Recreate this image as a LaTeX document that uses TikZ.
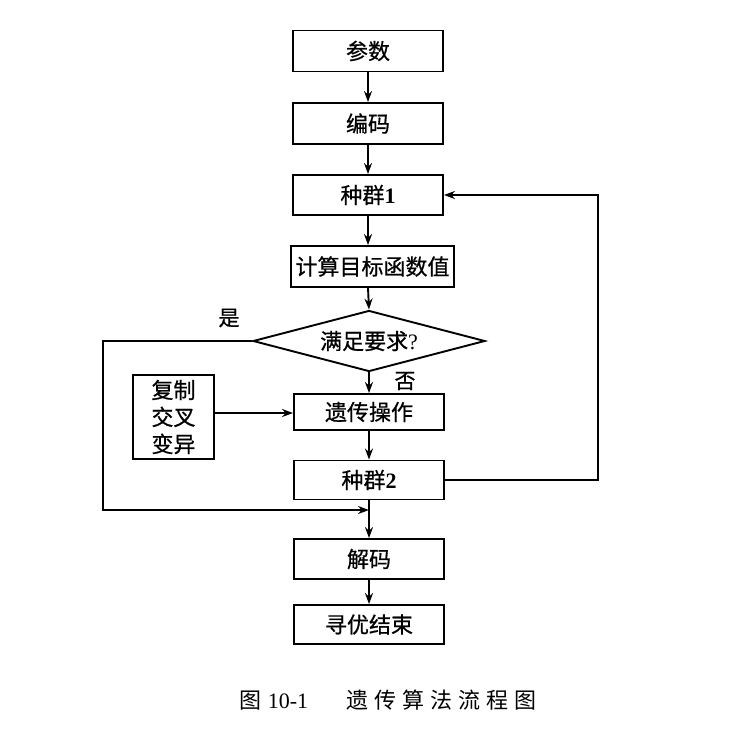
\documentclass[tikz,border=0pt]{standalone}
\usepackage{fontspec}
\setmainfont{Liberation Serif}
\newfontfamily\cjk{Noto Sans CJK SC}
\newfontfamily\cjkb[BoldFont={Noto Sans CJK SC},BoldFeatures={FakeBold=0.7}]{Noto Sans CJK SC}
\usetikzlibrary{shapes.geometric,arrows.meta}
\begin{document}
\begin{tikzpicture}[x=1pt,y=-1pt,
  box/.style={draw,line width=1.9pt,fill=white,minimum width=150pt,minimum height=40pt,inner sep=2pt,font=\fontsize{22}{24}\selectfont\bfseries},
  dia/.style={draw,line width=1.9pt,fill=white,diamond,aspect=3.8,inner sep=0pt,minimum width=232pt,minimum height=61pt,font=\fontsize{22}{24}\selectfont\bfseries},
  arr/.style={line width=1.9pt,-{Stealth[length=11pt,width=8pt]}},
  lab/.style={font=\fontsize{21}{23}\selectfont\bfseries}]
\useasboundingbox[fill=white] (0,0) rectangle (752,732);
\node[box,minimum height=41pt] (p1) at (368,51) {\cjkb 参数};
\node[box,minimum height=41pt] (p2) at (368,123.5) {\cjkb 编码};
\node[box] (p3) at (368,195) {\cjkb 种群\rmfamily 1};
\node[box,minimum width=163pt,minimum height=41pt] (p4) at (372.5,266.5) {\cjkb 计算目标函数值};
\node[dia] (d) at (369,341) {\cjkb 满足要求\rmfamily\mdseries ?};
\node[box,minimum height=36pt] (g) at (369,412) {\cjkb 遗传操作};
\node[box,minimum width=81pt,minimum height=84pt,align=center,font=\fontsize{22}{27}\selectfont\bfseries] (c) at (173.5,417) {\cjkb 复制\\ \cjkb 交叉\\ \cjkb 变异};
\node[box,minimum height=39pt] (z2) at (369,480) {\cjkb 种群\rmfamily 2};
\node[box] (dec) at (369,559) {\cjkb 解码};
\node[box,minimum height=39pt] (e) at (369,624.5) {\cjkb 寻优结束};
\node[lab] (yes) at (229,318) {\cjkb 是};
\node[lab] (no) at (405,381) {\cjkb 否};
\coordinate (m) at (369,510);
\coordinate (lt) at (103,341);
\coordinate (lb) at (103,510);
\coordinate (rt) at (598,195);
\coordinate (rb) at (598,480);
\draw[arr] (p1) -- (p2);
\draw[arr] (p2) -- (p3);
\draw[arr] (p3.south) -- (p3.south |- p4.north);
\draw[arr] (p3.south |- p4.south) -- (d.north);
\draw[arr] (d) -- (g);
\draw[arr] (c.east |- 0,413) -- (g.west |- 0,413);
\draw[arr] (g) -- (z2);
\draw[arr] (z2) -- (dec);
\draw[arr] (dec) -- (e);
\draw[arr] (d.west) -- (lt) -- (lb) -- (m);
\draw[arr] (z2.east) -- (rb) -- (rt) -- (p3.east);
\node[font=\fontsize{22}{24}\selectfont] (cap) at (388,700) {{\cjk 图}\hspace{6pt}10-1\hspace{38pt}\cjk 遗\hspace{6pt}传\hspace{6pt}算\hspace{6pt}法\hspace{6pt}流\hspace{6pt}程\hspace{6pt}图};
\end{tikzpicture}
\end{document}
